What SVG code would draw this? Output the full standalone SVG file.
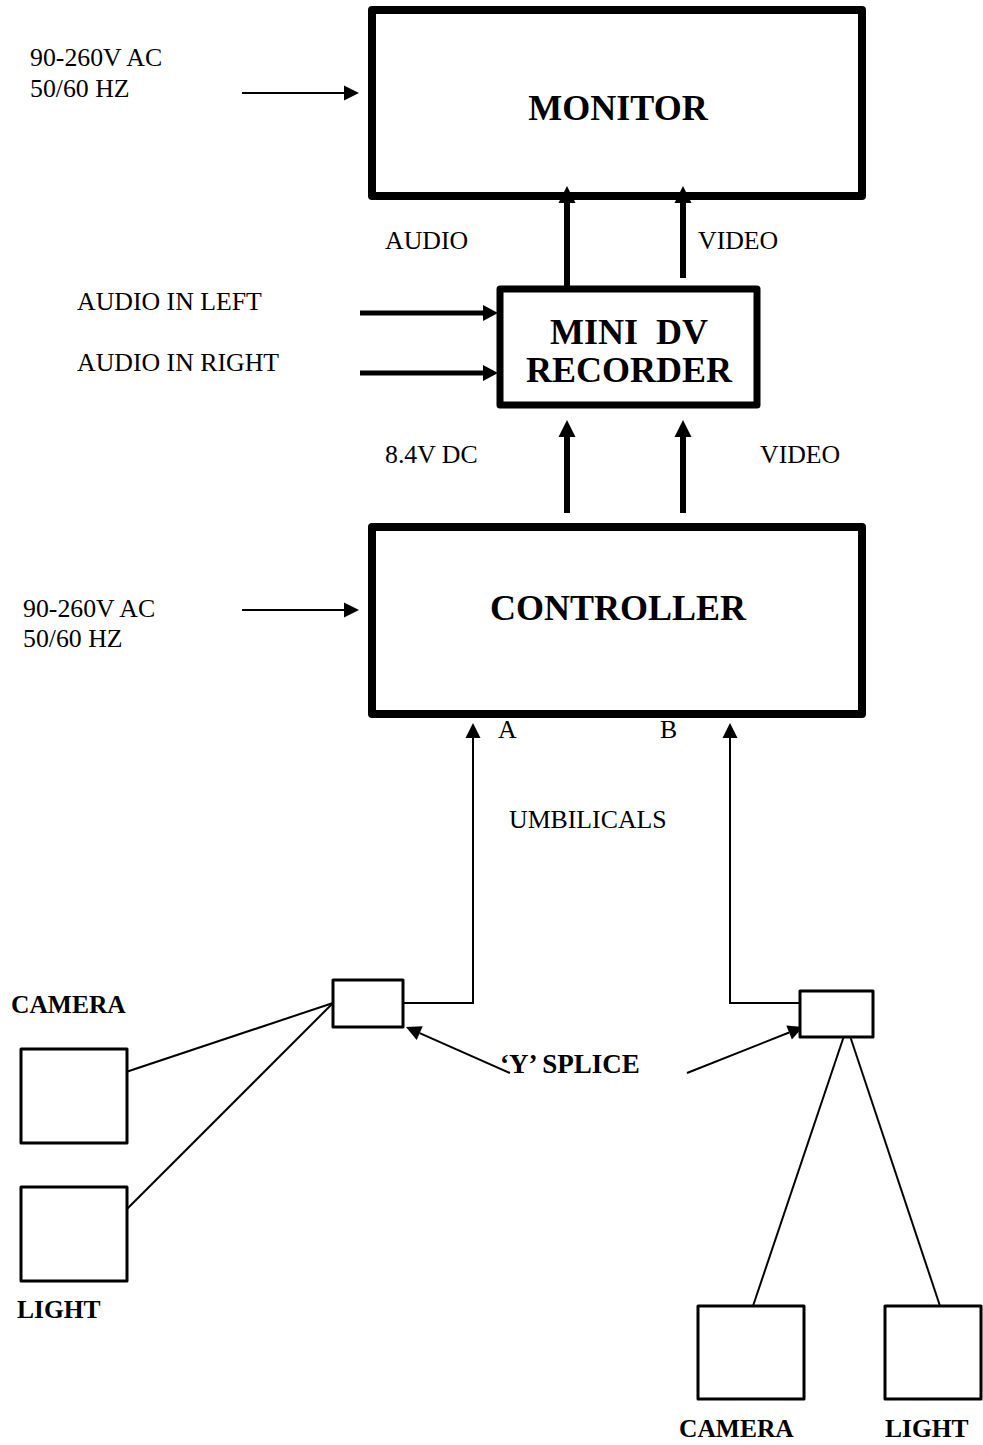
<svg xmlns="http://www.w3.org/2000/svg" width="983" height="1445" viewBox="0 0 983 1445">
<style>
  text { font-family: "Liberation Serif", "Times New Roman", serif; fill: #000; }
  .t { font-size: 25.8px; }
  .b { font-size: 25.5px; font-weight: bold; }
  .ys { font-size: 27px; font-weight: bold; }
  .big { font-size: 36px; font-weight: bold; text-anchor: middle; }
  .box { fill: #fff; stroke: #000; stroke-linejoin: round; }
  .heavy { stroke-width: 8; }
  .rec { stroke-width: 7; }
  .small { stroke-width: 3; }
  .wire { fill: none; stroke: #000; stroke-width: 2; }
  .thick { fill: none; stroke: #000; stroke-width: 6; }
  .aud { fill: none; stroke: #000; stroke-width: 5; }
</style>
<defs>
  <marker id="ahThick" markerUnits="userSpaceOnUse" markerWidth="20" markerHeight="20" refX="0" refY="8.5" orient="auto" overflow="visible">
    <path d="M0,0 L17,8.5 L0,17 z" fill="#000"/>
  </marker>
  <marker id="ahAud" markerUnits="userSpaceOnUse" markerWidth="20" markerHeight="20" refX="0" refY="8" orient="auto" overflow="visible">
    <path d="M0,0 L15,8 L0,16 z" fill="#000"/>
  </marker>
  <marker id="ahThin" markerUnits="userSpaceOnUse" markerWidth="20" markerHeight="20" refX="0" refY="7.5" orient="auto" overflow="visible">
    <path d="M0,0 L15,7.5 L0,15 z" fill="#000"/>
  </marker>
</defs>
<rect width="983" height="1445" fill="#fff"/>

<g id="connectors">
  <path class="wire" d="M242,93 H344" marker-end="url(#ahThin)"/>
  <path class="wire" d="M242,610 H344" marker-end="url(#ahThin)"/>
  <path class="aud" d="M360,313 H483" marker-end="url(#ahAud)"/>
  <path class="aud" d="M360,373 H483" marker-end="url(#ahAud)"/>
  <path class="thick" d="M567,292 V203" marker-end="url(#ahThick)"/>
  <path class="thick" d="M683,278 V203" marker-end="url(#ahThick)"/>
  <path class="thick" d="M567,513 V437" marker-end="url(#ahThick)"/>
  <path class="thick" d="M683,513 V437" marker-end="url(#ahThick)"/>
  <path class="wire" d="M403,1003 H473 V738" marker-end="url(#ahThin)"/>
  <path class="wire" d="M800,1003 H730 V738" marker-end="url(#ahThin)"/>
  <path class="wire" d="M510,1073 L419.7,1033.1" marker-end="url(#ahThin)"/>
  <path class="wire" d="M687,1073 L789.1,1032.5" marker-end="url(#ahThin)"/>
  <path class="wire" d="M123,1073 L333,1003"/>
  <path class="wire" d="M123,1213 L333,1003"/>
  <path class="wire" d="M847,1027 L753,1306"/>
  <path class="wire" d="M847,1027 L940,1306"/>
</g>

<g id="monitor">
  <rect class="box heavy" x="372" y="10" width="490" height="186" fill-opacity="0"/>
  <text class="big" x="618" y="120">MONITOR</text>
</g>

<g id="recorder">
  <rect class="box rec" x="500" y="289" width="257" height="116"/>
  <text class="big" x="629" y="344" xml:space="preserve">MINI  DV</text>
  <text class="big" x="629" y="382">RECORDER</text>
</g>

<g id="controller">
  <rect class="box heavy" x="372" y="527" width="490" height="187"/>
  <text class="big" x="618" y="620">CONTROLLER</text>
</g>

<g id="splice-a">
  <rect class="box small" x="333" y="980" width="70" height="47"/>
</g>
<g id="splice-b">
  <rect class="box small" x="800" y="991" width="73" height="46"/>
</g>
<g id="camera-a">
  <rect class="box small" x="21" y="1049" width="106" height="94"/>
  <text class="b" x="11" y="1013">CAMERA</text>
</g>
<g id="light-a">
  <rect class="box small" x="21" y="1187" width="106" height="94"/>
  <text class="b" x="17" y="1318">LIGHT</text>
</g>
<g id="camera-b">
  <rect class="box small" x="698" y="1306" width="106" height="93"/>
  <text class="b" x="679" y="1437">CAMERA</text>
</g>
<g id="light-b">
  <rect class="box small" x="885" y="1306" width="96" height="93"/>
  <text class="b" x="885" y="1437">LIGHT</text>
</g>

<g id="labels">
  <text class="t" x="30" y="66">90-260V AC</text>
  <text class="t" x="30" y="97">50/60 HZ</text>
  <text class="t" x="385" y="249">AUDIO</text>
  <text class="t" x="698" y="249">VIDEO</text>
  <text class="t" x="77" y="310">AUDIO IN LEFT</text>
  <text class="t" x="77" y="371">AUDIO IN RIGHT</text>
  <text class="t" x="385" y="463">8.4V DC</text>
  <text class="t" x="760" y="463">VIDEO</text>
  <text class="t" x="23" y="617">90-260V AC</text>
  <text class="t" x="23" y="647">50/60 HZ</text>
  <text class="t" x="498" y="738">A</text>
  <text class="t" x="660" y="738">B</text>
  <text class="t" x="509" y="828">UMBILICALS</text>
  <text class="ys" x="500" y="1073">‘Y’ SPLICE</text>
</g>
</svg>
